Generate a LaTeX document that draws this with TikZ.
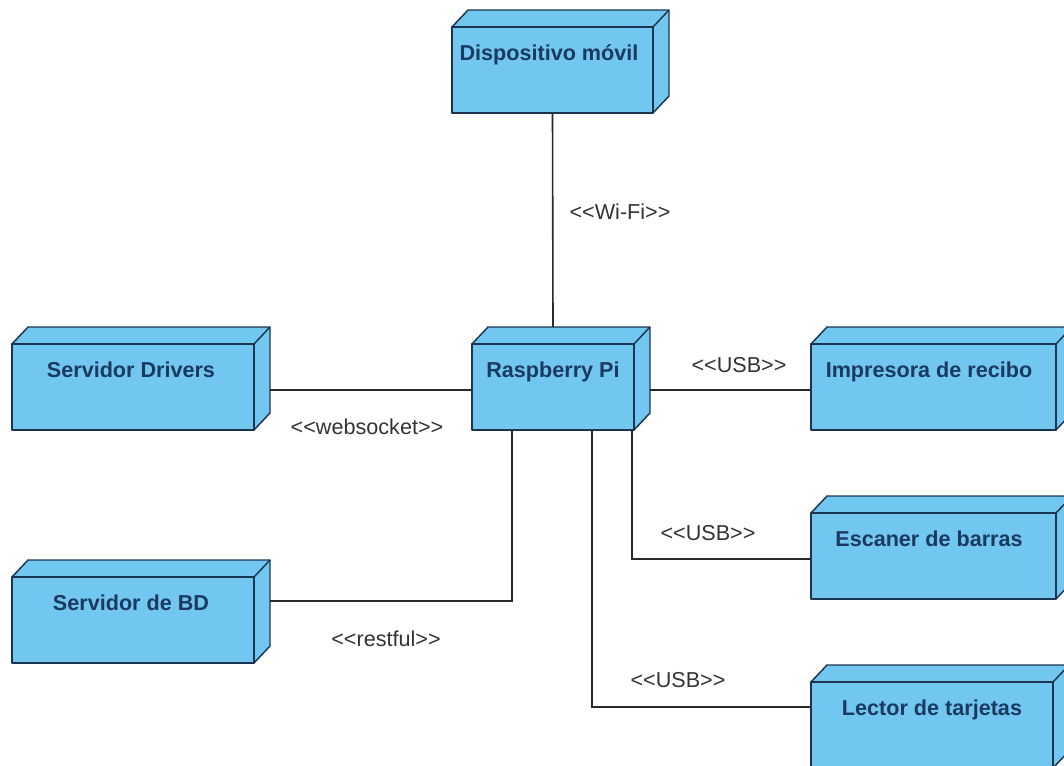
\documentclass[tikz,border=0pt]{standalone}
\usepackage{fontspec}
\usetikzlibrary{calc}
\setmainfont{Liberation Sans}
\definecolor{boxfill}{HTML}{72C7F1}
\definecolor{boxline}{HTML}{1B3550}
\definecolor{boxtext}{HTML}{1A3A60}
\definecolor{wire}{HTML}{2A2A2A}
\definecolor{lbl}{HTML}{333333}
\tikzset{
  devfront/.style={draw=boxline,fill=boxfill,line width=1.1pt,inner sep=0pt,outer sep=0pt,line join=round},
  devface/.style={draw=boxline,fill=boxfill,line width=1.1pt,line join=round},
  devname/.style={text=boxtext,font=\fontsize{16.2}{18}\selectfont\bfseries,inner sep=0pt,anchor=base},
  wirelink/.style={draw=wire,line width=1.2pt},
  linklabel/.style={text=lbl,font=\fontsize{16.2}{18}\selectfont,inner sep=0pt},
}
% #1 name, #2 left, #3 top, #4 right, #5 bottom (px), #6 text, #7 text x
\newcommand{\devbox}[7]{%
  \draw[devface] (#2,#3) -- ({#2+16},{#3-17}) -- ({#4+16},{#3-17}) -- ({#4+16},{#5-17}) -- (#4,#5) -- (#4,#3) -- cycle;
  \draw[devface] (#4,#3) -- ({#4+16},{#3-17});
  \node[devfront,minimum width={(#4-#2)*0.75pt},minimum height={(#5-#3)*0.75pt}] (#1) at ({(#2+#4)/2},{(#3+#5)/2}) {};
  \coordinate (#1-backtop) at ({(#2+#4)/2},{#3-17});
  \coordinate (#1-backright) at ({#4+16},{(#3+#5)/2});
  \node[devname] (#1-name) at (#7,{#3+33}) {#6};
}
\begin{document}
\begin{tikzpicture}[x=0.75pt,y=-0.75pt]
\useasboundingbox (0,0) rectangle (1064,765);
\clip (0,0) rectangle (1064,765);
\fill[white] (0,0) rectangle (1064,765);

\devbox{movil}{452}{27}{653}{113}{Dispositivo móvil}{549}
\devbox{rpi}{472}{344}{634}{430}{Raspberry Pi}{553}
\devbox{drivers}{12}{344}{254}{430}{Servidor Drivers}{131}
\devbox{bd}{12}{577}{254}{663}{Servidor de BD}{131}
\devbox{impresora}{811}{344}{1056}{430}{Impresora de recibo}{929}
\devbox{escaner}{811}{513}{1056}{599}{Escaner de barras}{929}
\devbox{lector}{811}{682}{1053}{768}{Lector de tarjetas}{932}

\draw[wirelink] (movil.south) -- (rpi-backtop);
\coordinate (driversOut) at ($(drivers-backright)+(0,3)$);
\coordinate (rpiOut) at ($(rpi-backright)+(0,3)$);
\draw[wirelink] (driversOut) -- (driversOut -| rpi.west);
\draw[wirelink] (rpiOut) -- (rpiOut -| impresora.west);
\coordinate (rpiA) at ($(rpi.south)+(-41,0)$);
\coordinate (rpiB) at ($(rpi.south)+(39,0)$);
\coordinate (rpiC) at ($(rpi.south)+(79,0)$);
\coordinate (bdIn) at ($(bd-backright)+(0,-19)$);
\coordinate (escanerIn) at ($(escaner.west)+(0,3)$);
\coordinate (lectorIn) at ($(lector.west)+(0,-18)$);
\draw[wirelink] (rpiA) |- (bdIn);
\draw[wirelink] (rpiB) |- (lectorIn);
\draw[wirelink] (rpiC) |- (escanerIn);

\node[linklabel] (l1) at (620,212) {<{}<Wi-Fi>{}>};
\node[linklabel] (l2) at (739,365) {<{}<USB>{}>};
\node[linklabel] (l3) at (367,427) {<{}<websocket>{}>};
\node[linklabel] (l4) at (708,533) {<{}<USB>{}>};
\node[linklabel] (l5) at (386,639) {<{}<restful>{}>};
\node[linklabel] (l6) at (678,680) {<{}<USB>{}>};
\end{tikzpicture}
\end{document}
